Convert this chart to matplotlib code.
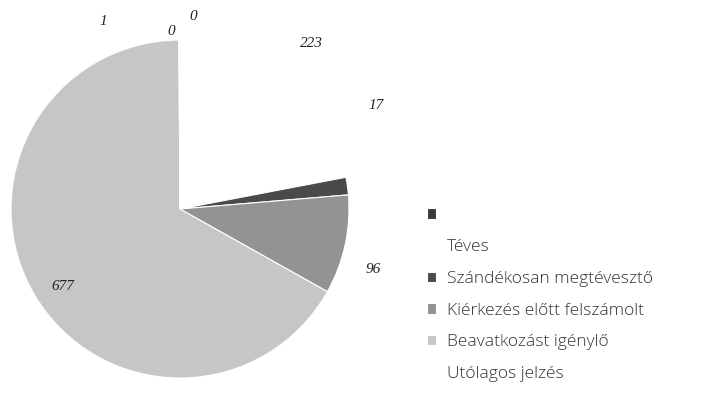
import numpy as np
import matplotlib
matplotlib.use("Agg")
import matplotlib.pyplot as plt

# data
categories = ["", "Téves", "Szándékosan megtévesztő", "Kiérkezés előtt felszámolt",
              "Beavatkozást igénylő", "Utólagos jelzés", ""]
values = [0, 223, 17, 96, 677, 0, 1]
value_labels = ["0", "223", "17", "96", "677", "0", "1"]

colors = ["#3a3a3a", "#ffffff", "#4a4a4a", "#939393", "#c6c6c6", "#ffffff", "#ffffff"]

fig = plt.figure(figsize=(7.15, 4.12), dpi=100)
ax = fig.add_axes([0.0154, 0.0825, 0.4727, 0.8204])

wedges, _ = ax.pie(values, colors=colors, startangle=90, counterclock=False,
                   wedgeprops=dict(edgecolor="white", linewidth=0.8))
ax.set_xlim(-1, 1)
ax.set_ylim(-1, 1)
ax.axis("off")

# label placement (radius, angle shift in degrees) per slice
label_pos = [(1.14, -4), (1.25, 1), (1.31, 20), (1.2, -5), (0.83, 3), (1.05, 2.5), (1.2, 22)]
for w, txt, (r, shift) in zip(wedges, value_labels, label_pos):
    ang = np.deg2rad((w.theta1 + w.theta2) / 2 + shift)
    ax.text(r * np.cos(ang), r * np.sin(ang), txt, ha="center", va="center",
            fontsize=11, family="Liberation Serif", style="italic",
            color="#222222", clip_on=False)

fig.legend(wedges[:6], categories[:6], loc="upper left",
           bbox_to_anchor=(418 / 715, 1 - 199 / 412), frameon=False,
           handlelength=0.55, handleheight=0.55,
           handletextpad=0.6, labelspacing=0.9, borderpad=0,
           prop={"family": "Open Sans", "size": 12.5, "weight": "light"},
           labelcolor="#333333")

fig.savefig("out.png", dpi=100)
